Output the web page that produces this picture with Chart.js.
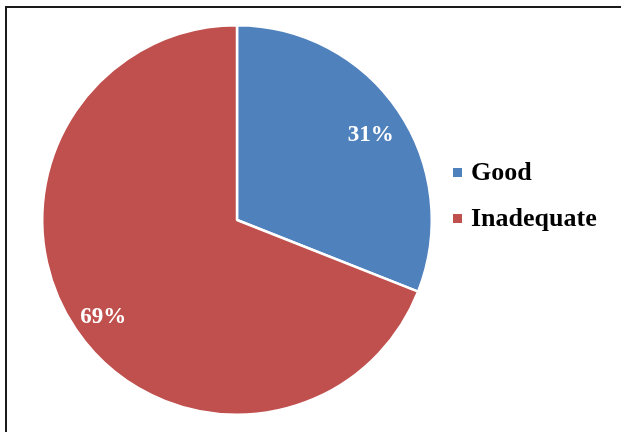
<!DOCTYPE html>
<html>
<head>
<meta charset="utf-8">
<script src="https://cdn.jsdelivr.net/npm/chart.js@4"></script>
<style>
  html, body { margin: 0; padding: 0; background: #fff; overflow: hidden; }
  #wrap { position: relative; width: 621px; height: 432px; }
  #frame {
    position: absolute; left: 5px; top: 6px; width: 660px; height: 470px;
    border: 2px solid #1a1a1a; box-sizing: border-box;
  }
  canvas { position: absolute; left: 0; top: 0; }
</style>
</head>
<body>
<div id="wrap">
  <div id="frame"></div>
  <canvas id="pieChart" width="621" height="432"></canvas>
</div>
<script>
/* ── Data ─────────────────────────────────────────── */
const categories = ['Good', 'Inadequate'];
const shares     = [31, 69];
const colours    = ['#4F81BD', '#C0504D'];

const serif = '"Liberation Serif", "Times New Roman", serif';

/* percentage labels inside each slice */
const sliceLabels = {
    id: 'sliceLabels',
    afterDatasetsDraw(chart) {
        const ctx = chart.ctx;
        const meta = chart.getDatasetMeta(0);
        ctx.save();
        ctx.fillStyle = '#fff';
        ctx.font = 'bold 23px ' + serif;
        ctx.textAlign = 'center';
        ctx.textBaseline = 'middle';
        meta.data.forEach((arc, i) => {
            const mid = (arc.startAngle + arc.endAngle) / 2;
            const r = arc.outerRadius * 0.83;
            ctx.fillText(shares[i] + '%', arc.x + Math.cos(mid) * r, arc.y + Math.sin(mid) * r + 6);
        });
        ctx.restore();
    },
};

/* legend on the right, square markers */
const sideLegend = {
    id: 'sideLegend',
    afterDraw(chart) {
        const ctx = chart.ctx;
        ctx.save();
        ctx.font = 'bold 26px ' + serif;
        ctx.textBaseline = 'middle';
        chart.data.labels.forEach((lab, i) => {
            const y = 172 + i * 46;
            ctx.fillStyle = colours[i];
            ctx.fillRect(453, y - 4, 9, 9);
            ctx.fillStyle = '#000';
            ctx.fillText(lab, 471, y + 1);
        });
        ctx.restore();
    },
};

new Chart(document.getElementById('pieChart'), {
    type: 'pie',
    data: {
        labels: categories,
        datasets: [{
            data: shares,
            backgroundColor: colours,
            borderColor: '#fff',
            borderWidth: 2.5,
        }],
    },
    options: {
        responsive: false,
        animation: false,
        layout: { padding: { left: 41, top: 24, right: 188, bottom: 16 } },
        plugins: {
            legend: { display: false },
            tooltip: { enabled: false },
        },
    },
    plugins: [sliceLabels, sideLegend],
});
</script>
</body>
</html>
